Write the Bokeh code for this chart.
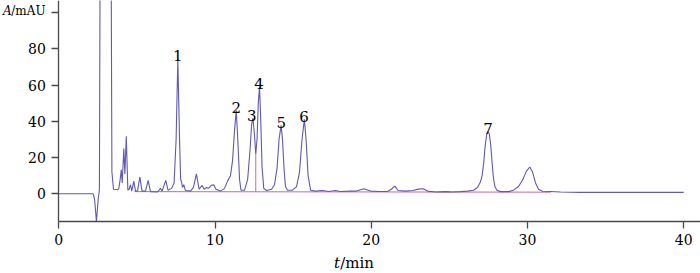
from bokeh.plotting import figure
from bokeh.models import Range1d, Label, FixedTicker, ColumnDataSource
from bokeh.core.properties import value
from bokeh.embed import file_html
from bokeh.resources import INLINE

# ---- data ----
time_min = [0.00, 2.20, 2.29, 2.41, 2.52, 2.60, 2.69, 2.93, 3.28, 3.40, 3.50, 3.76,
            3.84, 3.93, 4.00, 4.06, 4.16, 4.23, 4.32, 4.42, 4.50, 4.59, 4.67, 4.80,
            4.91, 5.04, 5.19, 5.33, 5.55, 5.72, 5.87, 6.32, 6.51, 6.61, 6.85, 6.99,
            7.22, 7.38, 7.51, 7.62, 7.73, 7.80, 7.86, 7.92, 8.00, 8.11, 8.43, 8.62,
            8.81, 8.98, 9.07, 9.18, 9.30, 9.46, 9.59, 9.74, 9.92, 10.06, 10.35, 10.61,
            10.80, 10.99, 11.12, 11.25, 11.36, 11.46, 11.57, 11.66, 11.89, 12.09, 12.25, 12.34,
            12.43, 12.53, 12.61, 12.69, 12.77, 12.85, 12.93, 13.01, 13.12, 13.30, 13.62, 13.81,
            13.97, 14.10, 14.23, 14.32, 14.42, 14.51, 14.64, 14.96, 15.22, 15.41, 15.57, 15.72,
            15.83, 15.96, 16.12, 16.44, 16.88, 17.27, 17.71, 18.03, 18.67, 19.06, 19.53, 19.96,
            20.47, 21.04, 21.29, 21.51, 21.72, 22.19, 22.65, 23.03, 23.33, 23.61, 24.12, 24.76,
            25.20, 25.72, 26.17, 26.55, 26.80, 26.99, 27.10, 27.20, 27.30, 27.40, 27.48, 27.56,
            27.65, 27.74, 27.82, 27.92, 28.05, 28.28, 28.79, 29.11, 29.43, 29.68, 29.94, 30.15,
            30.33, 30.52, 30.71, 30.97, 31.48, 32.12, 33.40, 40.00]
absorbance = [0.0, 0.0, -3.0, -15.3, -3.0, 2.0, 260.0, 150.0, 300.0, 12.0, 2.5, 2.2,
              3.0, 8.0, 13.3, 6.0, 25.0, 11.0, 31.8, 2.0, 2.5, 5.0, 1.5, 7.0,
              1.5, 1.6, 9.2, 1.5, 1.5, 7.4, 1.2, 1.0, 3.0, 1.5, 7.4, 2.0,
              3.0, 6.0, 30.0, 74.4, 30.0, 8.0, 6.5, 3.5, 5.0, 1.8, 1.5, 3.5,
              11.0, 2.5, 3.5, 4.6, 2.5, 3.5, 3.0, 4.5, 5.0, 2.5, 1.5, 3.0,
              7.0, 10.0, 18.0, 35.0, 45.9, 30.0, 8.0, 2.0, 2.0, 8.0, 25.0, 38.0,
              41.7, 32.0, 22.0, 30.0, 50.0, 59.0, 40.0, 15.0, 3.0, 1.8, 2.5, 5.0,
              14.0, 30.0, 37.8, 30.0, 14.0, 4.0, 2.0, 2.0, 4.0, 12.0, 30.0, 41.1,
              30.0, 10.0, 2.0, 1.5, 1.8, 1.3, 1.8, 1.3, 1.5, 1.5, 2.8, 1.5,
              1.3, 1.3, 2.5, 4.2, 1.8, 1.5, 1.8, 2.6, 2.8, 1.5, 1.0, 1.2,
              1.0, 1.2, 1.5, 2.0, 3.5, 6.5, 10.0, 17.0, 27.0, 33.0, 34.2, 33.0,
              27.0, 17.0, 9.0, 4.0, 2.0, 1.2, 1.2, 2.0, 4.0, 7.5, 12.5, 14.8,
              12.0, 6.0, 2.5, 1.4, 1.3, 1.0, 0.8, 0.8]

baseline_t = [4.85, 31.50]
baseline_y = [1.2, 0.9]
drop_t = [12.61]
drop_bottom = [1.1]
drop_top = [22.0]

peak_labels = ["1", "2", "3", "4", "5", "6", "7"]
peak_t = [7.62, 11.36, 12.35, 12.82, 14.24, 15.70, 27.47]
peak_h = [74.4, 45.9, 41.7, 59.0, 37.8, 41.1, 34.2]

x_ticks = [0, 10, 20, 30, 40]
y_ticks = [0, 20, 40, 60, 80, 100]

X_MIN, X_MAX = 0.0, 41.08      # time axis extent
Y_MIN, Y_MAX = -15.28, 106.65  # absorbance axis extent

TRACE = "#5f59b0"
BASE = "#d2649e"
AXIS = "#4a4a4a"
FONT = "DejaVu Serif"

p = figure(width=700, height=273,
           x_range=Range1d(-3.732, 41.08), y_range=Range1d(-43.97, 106.65),
           output_backend="svg", toolbar_location=None,
           min_border=0, min_border_left=0, min_border_right=0,
           min_border_top=0, min_border_bottom=0)
p.outline_line_color = None
p.grid.visible = False
p.background_fill_color = "white"
p.border_fill_color = "white"

p.line(baseline_t, baseline_y, color=BASE, line_width=1)
p.segment(x0=drop_t, y0=drop_bottom, x1=drop_t, y1=drop_top, color=BASE, line_width=1)
p.line(time_min, absorbance, color=TRACE, line_width=1.1)

src = ColumnDataSource(dict(x=peak_t, y=peak_h, t=peak_labels))
p.text(x="x", y="y", text="t", source=src, text_font=value(FONT),
       text_font_size="15px", text_align="center", text_baseline="alphabetic",
       y_offset=-3, text_color="black")

for ax in (p.xaxis[0], p.yaxis[0]):
    ax.axis_line_color = AXIS
    ax.axis_line_width = 1.3
    ax.major_tick_line_color = AXIS
    ax.major_tick_line_width = 1.3
    ax.major_tick_in = 0
    ax.major_tick_out = 7
    ax.minor_tick_line_color = None
    ax.major_label_text_font = FONT
    ax.major_label_text_font_size = "14px"
    ax.major_label_text_color = "black"
    ax.major_label_standoff = 6

p.xaxis.fixed_location = Y_MIN
p.xaxis.bounds = (X_MIN, X_MAX)
p.yaxis.fixed_location = X_MIN
p.yaxis.bounds = (Y_MIN, Y_MAX)
p.xaxis.ticker = FixedTicker(ticks=x_ticks)
p.yaxis.ticker = FixedTicker(ticks=y_ticks)
p.yaxis.major_label_overrides = {100: ""}

# y axis title "A/mAU" at the 100 tick
p.add_layout(Label(x=-0.85, y=100.8, text="/mAU", text_align="right", text_baseline="middle",
                   text_font=FONT, text_font_size="12px", text_color="black"))
p.add_layout(Label(x=-3.015, y=100.8, text="A", text_align="right", text_baseline="middle",
                   text_font=FONT, text_font_style="italic", text_font_size="12px",
                   text_color="black"))
# x axis title "t/min"
p.add_layout(Label(x=18.01, y=-38.2, text="t", text_align="right", text_baseline="alphabetic",
                   text_font=FONT, text_font_style="italic", text_font_size="15px",
                   text_color="black"))
p.add_layout(Label(x=18.01, y=-38.2, text="/min", text_align="left", text_baseline="alphabetic",
                   text_font=FONT, text_font_size="15px", text_color="black"))

open("out.html", "w").write(file_html(p, INLINE))
